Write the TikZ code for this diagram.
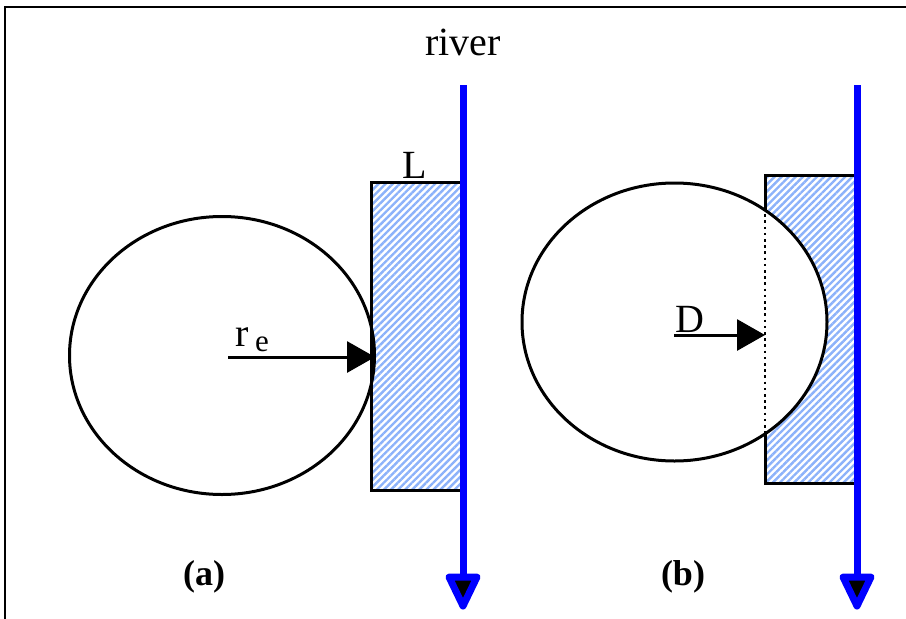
\documentclass[tikz,border=0pt]{standalone}
\usepackage{fontspec}
\setmainfont{Liberation Serif}
\usetikzlibrary{arrows.meta,shapes.geometric,patterns.meta}

\definecolor{hatchblue}{RGB}{140,178,250}
\definecolor{riverblue}{RGB}{0,0,255}

\begin{document}
\begin{tikzpicture}[
    x=1pt, y=-1pt,
    % elliptic capture zone of the well
    zone/.style={draw, ellipse, line width=3pt, inner sep=0pt,
        minimum width=305pt, minimum height=278pt},
    % hatched strip along the river
    bank/.style={draw, line width=3pt, inner sep=0pt,
        pattern={Lines[angle=45,distance=5pt,line width=2.4pt]},
        pattern color=hatchblue, minimum width=92pt, minimum height=308pt},
    % river line and its flow-direction head
    river/.style={draw=riverblue, line width=7pt},
    flowhead/.style={draw=riverblue, fill=black, line width=7pt, line join=round},
    % radius / distance arrow
    radius/.style={line width=3pt, -{Triangle[length=28pt,width=31pt]}},
    lbl/.style={font=\fontsize{40}{44}\selectfont, inner sep=0pt, anchor=base},
    panel/.style={font=\fontsize{36}{40}\selectfont\bfseries, inner sep=0pt, anchor=base}
]
    \useasboundingbox (0,0) rectangle (906,619);

    % outer frame (only top and left visible)
    \draw[line width=2pt] (5,625) -- (5,7) -- (912,7);

    \node[lbl] (title) at (463,55) {river};

    % ---------------- (a) ----------------
    \node[bank] (bankA) at (417,336) {};
    \node[zone] (zoneA) at (222,355.5) {};
    \coordinate (reA) at (228,357);
    \coordinate (edgeA) at (375,357);
    \draw[radius] (reA) -- (edgeA);
    \node[lbl] (labL) at (415,178) {L};
    \node[lbl, anchor=base west] (labre) at (235,346)
        {r\,\raisebox{-5pt}{\fontsize{31}{34}\selectfont e}};
    \coordinate (srcA) at (463,85);
    \coordinate (endA) at (463,577);
    \draw[river] (srcA) -- (endA);
    \draw[flowhead] ([xshift=-14]endA) -- ([xshift=14]endA) -- ([yshift=-29]endA) -- cycle;
    \node[panel] (panA) at (204,585) {(a)};

    % ---------------- (b) ----------------
    \node[bank] (bankB) at (811,329) {};
    \node[zone, fill=white] (zoneB) at (674.5,322) {};
    \coordinate (dTop) at (765,208);
    \coordinate (dBot) at (765,436);
    \draw[line width=2.6pt, dash pattern=on 2.6pt off 3.6pt] (dTop) -- (dBot);
    \coordinate (dA) at (674,335);
    \coordinate (dB) at (765,335);
    \draw[radius] (dA) -- (dB);
    \node[lbl, anchor=base west] (labD) at (675,332) {D};
    \coordinate (srcB) at (857,85);
    \coordinate (endB) at (857,577);
    \draw[river] (srcB) -- (endB);
    \draw[flowhead] ([xshift=-14]endB) -- ([xshift=14]endB) -- ([yshift=-29]endB) -- cycle;
    \node[panel] (panB) at (683,585) {(b)};
\end{tikzpicture}
\end{document}
